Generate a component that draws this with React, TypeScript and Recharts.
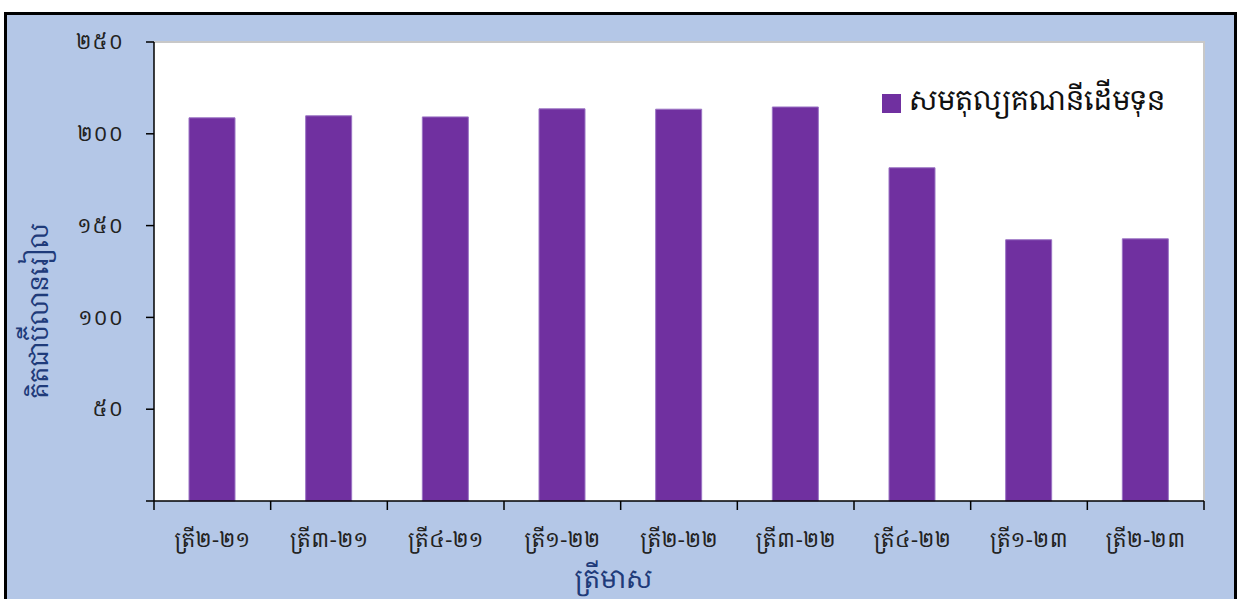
import React from 'react';
import { BarChart, Bar, XAxis, YAxis, Legend } from 'recharts';

// quarters (Khmer) and capital account balance, billion riel
const quarters = ['ត្រី២-២១', 'ត្រី៣-២១', 'ត្រី៤-២១', 'ត្រី១-២២', 'ត្រី២-២២', 'ត្រី៣-២២', 'ត្រី៤-២២', 'ត្រី១-២៣', 'ត្រី២-២៣'];
const capitalBalance = [208.7, 209.8, 209.2, 213.6, 213.4, 214.6, 181.5, 142.3, 142.8];
const yTicks = [0, 50, 100, 150, 200, 250];
const yTickLabels = ['', '៥០', '១០០', '១៥០', '២០០', '២៥០'];

const seriesName = 'សមតុល្យគណនីដើមទុន';
const yTitle = 'គិតជាប៊ីលានរៀល';
const xTitle = 'ត្រីមាស';

const data = quarters.map((q, i) => ({ quarter: q, value: capitalBalance[i] }));

const W = 1237;
const H = 599;
const PLOT_LEFT = 154;
const PLOT_TOP = 42;
const PLOT_W = 1050;
const PLOT_H = 459;
const BAND = PLOT_W / quarters.length;

const KHMER = "'Khmer OS System', 'Noto Serif Khmer', 'Noto Sans Khmer', 'Noto Sans', sans-serif";
const PURPLE = '#7030a0';
const NAVY = '#1f3b7a';

function XTick(props: any) {
  const { x, y, payload, index } = props;
  const left = x - BAND / 2;
  return (
    <g>
      <line x1={left} y1={y} x2={left} y2={y + 9} stroke="#000" strokeWidth={1.5} />
      {index === quarters.length - 1 ? (
        <line x1={x + BAND / 2} y1={y} x2={x + BAND / 2} y2={y + 9} stroke="#000" strokeWidth={1.5} />
      ) : null}
      <text x={x} y={y + 46} textAnchor="middle" fill="#222" fontSize={21} fontFamily={KHMER} letterSpacing={0.5}>
        {payload.value}
      </text>
    </g>
  );
}

function LegendBox() {
  return (
    <div style={{ display: 'flex', alignItems: 'center', fontFamily: KHMER, fontSize: 28, color: '#111', whiteSpace: 'nowrap' }}>
      <span style={{ display: 'inline-block', width: 19, height: 19, background: PURPLE, marginRight: 8, marginTop: 8 }} />
      <span>{seriesName}</span>
    </div>
  );
}

export default function App() {
  return (
    <div style={{ position: 'absolute', left: 0, top: 0, width: W, height: H, background: '#fff', overflow: 'hidden' }}>
      <div
        style={{
          position: 'absolute', left: 4, top: 12, width: 1233, height: 620, boxSizing: 'border-box',
          border: '3px solid #000', background: '#b4c7e7',
        }}
      />
      <div
        style={{
          position: 'absolute', left: PLOT_LEFT, top: PLOT_TOP - 1, width: PLOT_W + 1, height: PLOT_H + 1,
          boxSizing: 'border-box', background: '#fff', borderTop: '2px solid #c8c8c8', borderRight: '2px solid #c8c8c8',
        }}
      />
      <div style={{ position: 'absolute', left: 0, top: 0 }}>
        <BarChart
          width={W}
          height={H}
          data={data}
          margin={{ top: PLOT_TOP, right: W - PLOT_LEFT - PLOT_W, bottom: H - PLOT_TOP - PLOT_H - 60, left: PLOT_LEFT - 100 }}
        >
          <XAxis
            dataKey="quarter"
            height={60}
            tickLine={false}
            tickSize={0}
            tickMargin={0}
            interval={0}
            axisLine={{ stroke: '#000', strokeWidth: 1.5 }}
            tick={<XTick />}
            label={{
              content: () => (
                <text x={613} y={588} textAnchor="middle" fill={NAVY} fontSize={26} fontFamily={KHMER}>
                  {xTitle}
                </text>
              ),
            }}
          />
          <YAxis
            width={100}
            domain={[0, 250]}
            ticks={yTicks}
            interval={0}
            tickSize={8}
            tickMargin={22}
            axisLine={{ stroke: '#000', strokeWidth: 1.5 }}
            tickLine={{ stroke: '#000', strokeWidth: 1.5 }}
            tick={{ fill: '#222', fontSize: 20, fontFamily: KHMER, letterSpacing: 1 }}
            tickFormatter={(v: number) => yTickLabels[yTicks.indexOf(v)]}
            label={{
              content: () => (
                <text
                  x={48}
                  y={311}
                  transform="rotate(-90 48 311)"
                  textAnchor="middle"
                  fill={NAVY}
                  fontSize={25}
                  fontFamily={KHMER}
                >
                  {yTitle}
                </text>
              ),
            }}
          />
          <Legend
            layout="horizontal"
            verticalAlign="middle"
            align="center"
            wrapperStyle={{ position: 'absolute', top: 80, left: 882, width: 330 }}
            content={() => <LegendBox />}
          />
          <Bar
            dataKey="value"
            name={seriesName}
            fill={PURPLE}
            stroke="#9b74c4"
            strokeWidth={1}
            barSize={46}
            isAnimationActive={false}
          />
        </BarChart>
      </div>
    </div>
  );
}
